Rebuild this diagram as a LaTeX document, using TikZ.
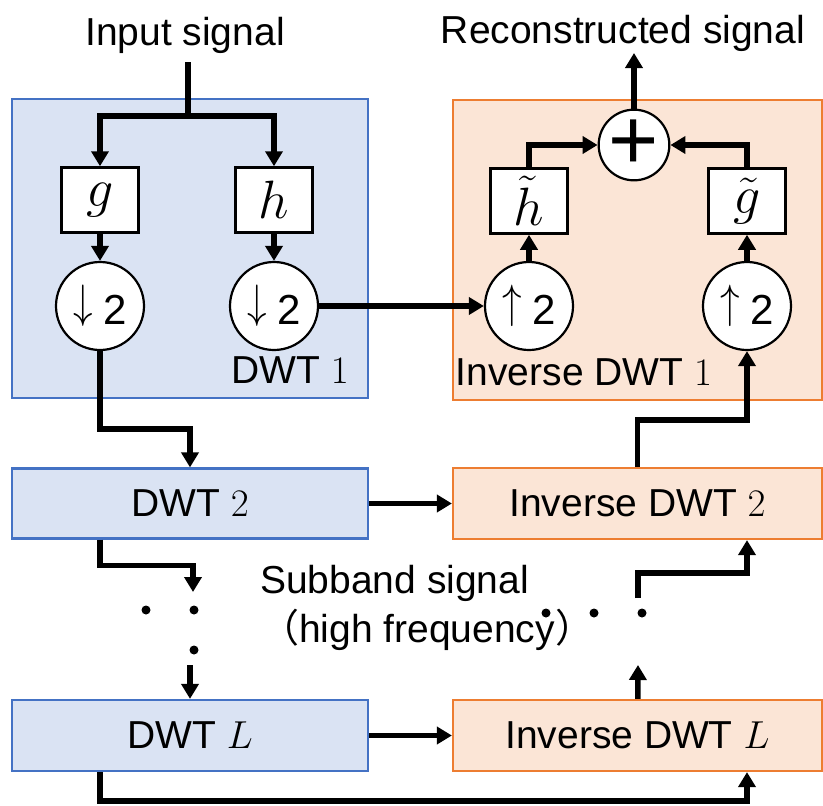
\documentclass[tikz,border=0pt]{standalone}
\usepackage{fix-cm}
\usepackage{fontspec}
\setmainfont{Liberation Sans}
\newfontfamily\jpfont{Noto Sans CJK JP}
\usetikzlibrary{arrows.meta}
\definecolor{fwdfill}{HTML}{DAE3F3}
\definecolor{fwdline}{HTML}{4472C4}
\definecolor{invfill}{HTML}{FBE5D6}
\definecolor{invline}{HTML}{ED7D31}
\newcommand{\rate}[1]{\raisebox{7pt}{\scalebox{1}[1.2]{$#1$}}\hspace{10pt}{\fontsize{42}{42}\selectfont 2}\hspace{13pt}}
\tikzset{
	fwd/.style={rectangle, minimum width=356pt, text centered, draw=fwdline, fill=fwdfill, line width=2.2pt},
	inv/.style={rectangle, minimum width=369pt, text centered, draw=invline, fill=invfill, line width=2.2pt},
	filt/.style={rectangle, minimum width=77pt, minimum height=65pt, inner sep=0pt, text centered, draw=black, fill=white, line width=2.5pt, font=\fontsize{54}{54}\selectfont},
	samp/.style={circle, minimum size=88pt, inner sep=0pt, text centered, draw=black, fill=white, line width=2.2pt},
	adder/.style={circle, minimum size=66pt, inner sep=0pt, text centered, draw=black, fill=white, line width=2.2pt, font=\fontsize{86}{86}\selectfont},
	lbl/.style={inner sep=0pt},
	dot/.style={circle, fill=black, inner sep=0pt, minimum size=9pt},
	wire/.style={line width=5.5pt},
	arrow/.style={wire, -{Triangle[length=15pt,width=17pt]}},
}

\begin{document}
\begin{tikzpicture}[x=1pt, y=-1pt, font=\fontsize{39}{49}\selectfont]
\useasboundingbox (0,0) rectangle (823,806);

% first level: analysis and synthesis blocks
\node [fwd, minimum height=299pt] (dwt1) at (190,248.5) {};
\node [inv, minimum height=300pt] (idwt1) at (637.5,250) {};
\node [lbl] (dwt1lbl) at (290,370) {DWT $1$};
\node [lbl] (idwt1lbl) at (584,372) {Inverse DWT $1$};

\node [filt] (g) at (100,200) {$g$};
\node [filt] (h) at (274,200) {$h$};
\node [samp] (downg) at (100,306) {\rate{\downarrow}};
\node [samp] (downh) at (274,306) {\rate{\downarrow}};

\node [samp] (uph) at (529,306) {\rate{\uparrow}};
\node [samp] (upg) at (747,306) {\rate{\uparrow}};
\node [filt] (ht) at (529,201) {$\tilde{h}$};
\node [filt] (gt) at (747,201) {$\tilde{g}$};
\node [adder] (sum) at (634,145) {+};

% deeper levels
\node [fwd, minimum height=70pt] (dwt2) at (190,503.5) {DWT $2$};
\node [inv, minimum height=71pt] (idwt2) at (637.5,503.5) {Inverse DWT $2$};
\node [fwd, minimum height=71pt] (dwtL) at (190,735.5) {DWT $L$};
\node [inv, minimum height=71pt] (idwtL) at (637.5,735.5) {Inverse DWT $L$};

% texts
\node [lbl, anchor=base] (insig) at (185,45) {Input signal};
\node [lbl, anchor=base] (outsig) at (623,43) {Reconstructed signal};
\node [lbl, anchor=north west, align=left] (subband) at (260,565) {Subband signal\\{\jpfont （}high frequency{\jpfont ）}};

% dots between the levels
\node [dot] (ldot1) at (146,610) {};
\node [dot] (ldot2) at (194,610) {};
\node [dot] (ldot3) at (194,650) {};
\node [dot] (rdot1) at (546,613) {};
\node [dot] (rdot2) at (594,613) {};
\node [dot] (rdot3) at (642,613) {};

\coordinate (insrc) at (188,62);
\coordinate (split) at (188,116);
\coordinate (outend) at (634,53);
\coordinate (fwdgap) at (193,592);
\coordinate (fwdresume) at (190,665);
\coordinate (invgap) at (638,665);
\coordinate (invresume) at (638,598);

% analysis side
\draw [wire] (insrc) -- (split);
\draw [arrow] (split) -| (g);
\draw [arrow] (split) -| (h);
\draw [arrow] (g) -- (downg);
\draw [arrow] (h) -- (downh);
\draw [arrow] (downg.south) -- ++(0,78) -| (dwt2.north); % low band goes down
\draw [arrow] (dwt2.south -| downg) -- ++(0,26) -| (fwdgap);
\draw [arrow] (fwdresume) -- (dwtL);

% high bands across
\draw [arrow] (downh) -- (uph);
\draw [arrow] (dwt2) -- (idwt2);
\draw [arrow] (dwtL) -- (idwtL);
\draw [arrow] (dwtL.south -| downg) -- ++(0,29) -| (idwtL.south -| upg);

% synthesis side
\draw [arrow] (idwtL) -- (invgap);
\draw [arrow] (invresume) -- ++(0,-25) -| (idwt2.south -| upg);
\draw [arrow] (idwt2.north) -- ++(0,-47) -| (upg);
\draw [arrow] (uph) -- (ht);
\draw [arrow] (upg) -- (gt);
\draw [arrow] (ht) |- (sum);
\draw [arrow] (gt) |- (sum);
\draw [arrow] (sum) -- (outend);
\end{tikzpicture}
\end{document}
